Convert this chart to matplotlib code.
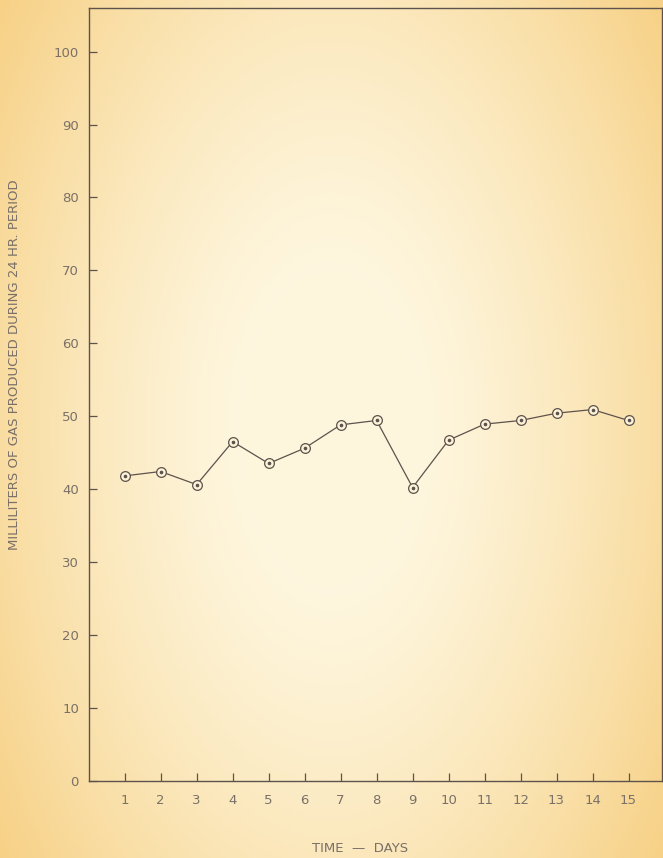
import numpy as np
import matplotlib.pyplot as plt

# gas produced per 24 hr period
days = [1, 2, 3, 4, 5, 6, 7, 8, 9, 10, 11, 12, 13, 14, 15]
gas_ml = [41.8, 42.4, 40.6, 46.5, 43.5, 45.6, 48.8, 49.4,
          40.2, 46.7, 48.9, 49.4, 50.4, 50.9, 49.4]
y_ticks = [0, 10, 20, 30, 40, 50, 60, 70, 80, 90, 100]
y_labels = ["0", "10", "20", "30", "40", "50", "60", "70", "80", "90", "100"]
x_labels = ["1", "2", "3", "4", "5", "6", "7", "8", "9", "10", "11", "12", "13", "14", "15"]

ink = "#5e524c"
text_col = "#7a7068"

fig = plt.figure(figsize=(6.63, 8.58), dpi=100)

# paper background: pale cream centre fading to warmer orange at the edges
bg = fig.add_axes([0, 0, 1, 1], zorder=-10)
gx, gy = np.meshgrid(np.linspace(-1, 1, 200), np.linspace(-1, 1, 260))
r = np.clip(np.sqrt((gx * 0.95) ** 2 + (gy * 0.7) ** 2) - 0.25, 0, 1) / 0.75
r = r ** 1.3
centre = np.array([0.995, 0.965, 0.870])
edge = np.array([0.975, 0.855, 0.610])
img = centre[None, None, :] * (1 - r[..., None]) + edge[None, None, :] * r[..., None]
bg.imshow(img, aspect="auto", extent=[0, 1, 0, 1])
bg.axis("off")

ax = fig.add_axes([88.7 / 663, 1 - 780.5 / 858, (662 - 88.7) / 663, (780.5 - 8) / 858])
ax.patch.set_alpha(0)

ax.plot(days, gas_ml, color=ink, lw=0.9, zorder=2)
ax.plot(days, gas_ml, linestyle="none", marker="o", ms=7, mfc="#fdf3d8",
        mec=ink, mew=0.9, zorder=3)
ax.plot(days, gas_ml, linestyle="none", marker="o", ms=1.6, mfc=ink,
        mec=ink, zorder=4)

ax.set_xlim(0, 15.93)
ax.set_ylim(0, 106)

ax.set_xticks(days)
ax.set_xticklabels(x_labels)
ax.set_yticks(y_ticks)
ax.set_yticklabels(y_labels)

ax.tick_params(direction="in", length=6, width=0.9, color=ink,
               labelcolor=text_col, labelsize=9.5)
ax.tick_params(axis="x", pad=10)
ax.tick_params(axis="y", pad=7)

for s in ax.spines.values():
    s.set_color(ink)
    s.set_linewidth(1.0)

fig.text(15 / 663, 1 - 365 / 858, "MILLILITERS OF GAS PRODUCED DURING 24 HR. PERIOD",
         rotation=90, ha="center", va="center", fontsize=9.5, color=text_col)
fig.text(360 / 663, 1 - 848 / 858, "TIME  \u2014  DAYS", ha="center", va="center",
         fontsize=9.5, color=text_col)

fig.savefig("out.png", dpi=100)
